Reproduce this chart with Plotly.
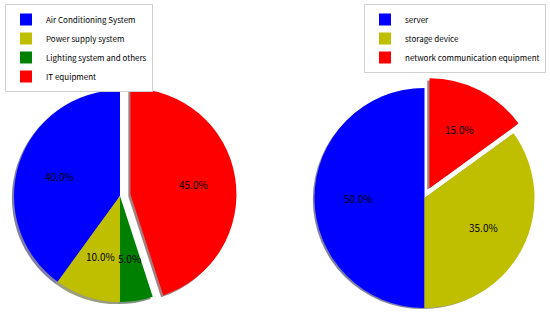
import math
import plotly.graph_objects as go

# ---- data ----
left_labels = ["Air Conditioning System", "Power supply system", "Lighting system and others", "IT equipment"]
left_values = [40, 10, 5, 45]
left_colors = ["#0000ff", "#bfbf00", "#008000", "#ff0000"]
left_explode = [0, 0, 0, 0.1]

right_labels = ["server", "storage device", "network communication equipment"]
right_values = [50, 35, 15]
right_colors = ["#0000ff", "#bfbf00", "#ff0000"]
right_explode = [0, 0, 0.1]

W, H = 550, 320
FONT = "Noto Sans CJK SC"
PCT_DIST = 0.6


def shadow(c):
    c = c.lstrip("#")
    r, g, b = (int(c[i:i + 2], 16) for i in (0, 2, 4))
    return f"rgba({int(r*0.3)},{int(g*0.3)},{int(b*0.3)},0.5)"


def box(cx, cy, r, pull, dx=0, dy=0):
    half = r * (1 + pull)
    x0 = (cx + dx - half) / W
    x1 = (cx + dx + half) / W
    y0 = (H - (cy + dy + half)) / H
    y1 = (H - (cy + dy - half)) / H
    return dict(x=[max(0, x0), min(1, x1)], y=[max(0, y0), min(1, y1)])


fig = go.Figure()
annotations = []


def add_pie(labels, values, colors, explode, cx, cy, r, legend):
    pull = max(explode)
    off = 0.02 * r
    total = sum(values)
    # plotly's counterclockwise mode puts the first slice clockwise of `rotation`;
    # shift so the first slice starts at 12 o'clock and runs counterclockwise
    rot = -values[0] / total * 360
    common = dict(labels=labels, values=values, sort=False, direction="counterclockwise",
                  rotation=rot, pull=explode, legend=legend, textinfo="none")
    fig.add_trace(go.Pie(
        marker=dict(colors=[shadow(c) for c in colors], line=dict(width=0)),
        hoverinfo="skip", showlegend=False,
        domain=box(cx, cy, r, pull, -off, off), **common,
    ))
    fig.add_trace(go.Pie(
        marker=dict(colors=colors, line=dict(width=0)),
        showlegend=True, domain=box(cx, cy, r, pull), **common,
    ))
    cum = 0
    for v, e in zip(values, explode):
        mid = math.radians((cum + v / 2) / total * 360)  # ccw from top
        rho = (PCT_DIST + e) * r
        x = cx - math.sin(mid) * rho
        y = cy - math.cos(mid) * rho
        annotations.append(dict(
            x=x / W, y=1 - y / H, xref="paper", yref="paper", showarrow=False,
            text=f"{v / total * 100:.1f}%", font=dict(family=FONT, size=10, color="black"),
            xanchor="center", yanchor="middle",
        ))
        cum += v


add_pie(left_labels, left_values, left_colors, left_explode, 120, 196, 106, "legend")
add_pie(right_labels, right_values, right_colors, right_explode, 424.5, 198, 110, "legend2")

legend_style = dict(
    font=dict(family=FONT, size=8, color="black"),
    bgcolor="white", bordercolor="#d0d0d0", borderwidth=1,
    yanchor="top", y=1 - 4 / H,
)

fig.update_layout(
    width=W, height=H,
    margin=dict(l=0, r=0, t=0, b=0),
    paper_bgcolor="white", plot_bgcolor="white",
    annotations=annotations,
    legend=dict(x=5 / W, xanchor="left", **legend_style),
    legend2=dict(x=546 / W, xanchor="right", **legend_style),
)

fig.write_html(
    "out.html",
    config={"displayModeBar": False},
    post_script="document.body.style.margin='0';document.body.style.overflow='hidden';",
)
